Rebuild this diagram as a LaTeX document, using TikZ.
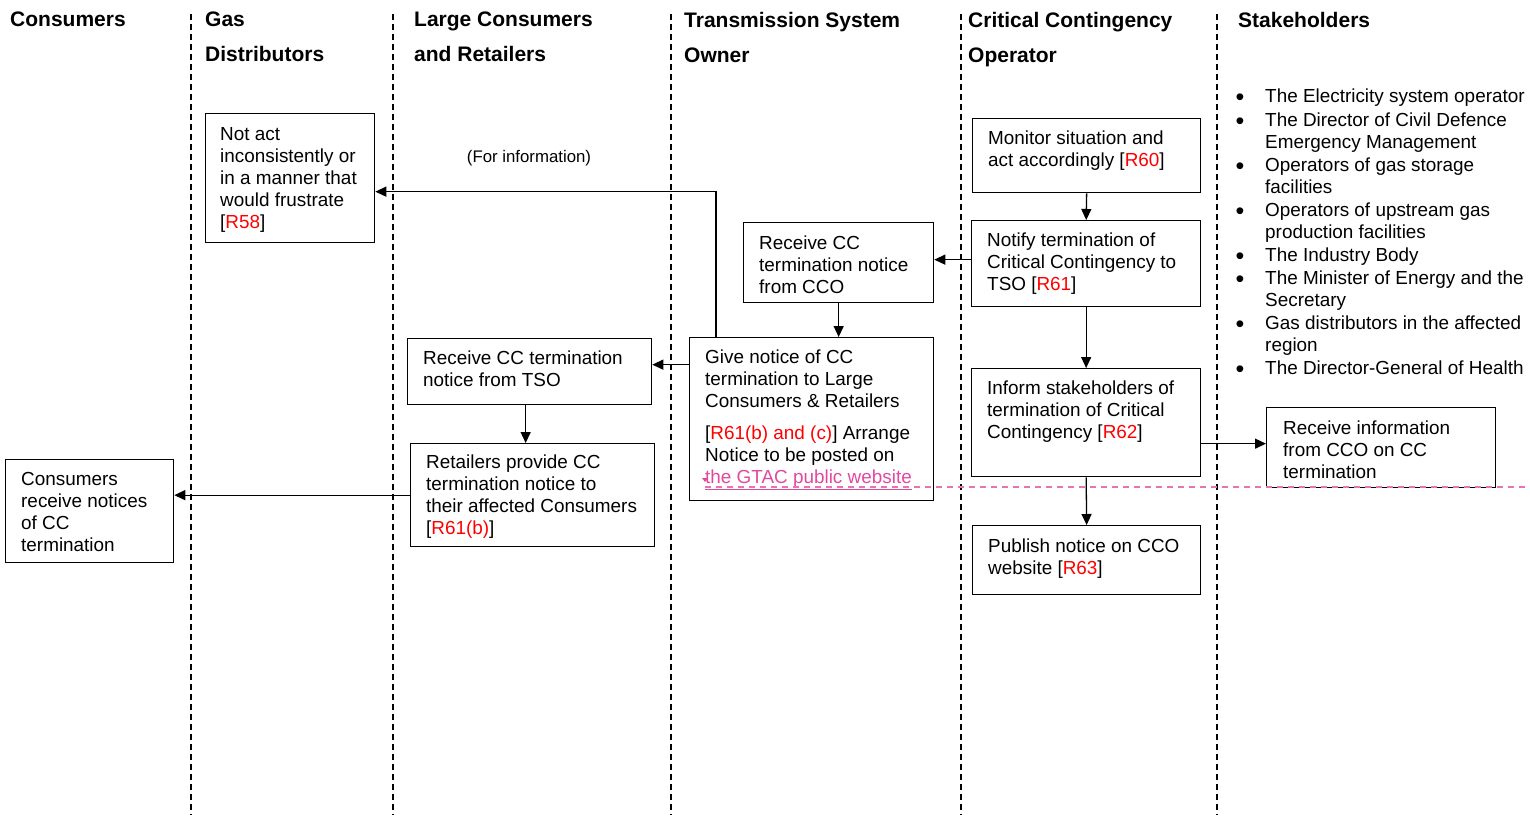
\documentclass[tikz,border=0pt]{standalone}
\usepackage{fontspec}
\setmainfont{Liberation Sans}
\usetikzlibrary{arrows.meta,calc}
\definecolor{refred}{RGB}{255,0,0}
\definecolor{linkpink}{RGB}{226,72,160}
\definecolor{dashpink}{RGB}{232,115,178}
\newcommand{\rf}[1]{[\textcolor{refred}{#1}]}
\begin{document}
\begin{tikzpicture}[x=1pt,y=-1pt,
  box/.style={draw, line width=1.3pt, anchor=north west, inner sep=0pt},
  txt/.style={anchor=north west, inner sep=0pt, align=left, font=\fontsize{18.9}{22}\selectfont},
  hdr/.style={anchor=north west, inner sep=0pt, align=left, font=\bfseries\fontsize{21}{35}\selectfont},
  lane/.style={line width=1.1pt, dash pattern=on 6pt off 4pt},
  arr/.style={line width=1.3pt, -{Triangle[length=11pt,width=10pt]}},
  bul/.style={anchor=base, inner sep=0pt, font=\fontsize{25}{25}\selectfont},
]
\useasboundingbox (0,0) rectangle (1530,815);

% lanes
\draw[lane] (191,14) -- (191,815);
\draw[lane] (393,14) -- (393,815);
\draw[lane] (671,14) -- (671,815);
\draw[lane] (961,14) -- (961,815);
\draw[lane] (1217,14) -- (1217,815);

% headers
\node[hdr] (h1) at (10,12) {Consumers};
\node[hdr] (h2) at (205,12) {Gas\\Distributors};
\node[hdr] (h3) at (414,12) {Large Consumers\\and Retailers};
\node[hdr] (h4) at (684,12) {Transmission System\\Owner};
\node[hdr] (h5) at (968,12) {Critical Contingency\\Operator};
\node[hdr] (h6) at (1238,12) {Stakeholders};

% boxes
\node[box, minimum width=169pt, minimum height=129pt] (r58) at (205,113) {};
\node[box, minimum width=228pt, minimum height=74pt] (mon) at (972,118) {};
\node[box, minimum width=229pt, minimum height=86pt] (notify) at (971,220) {};
\node[box, minimum width=190pt, minimum height=80pt] (rcco) at (743,222) {};
\node[box, minimum width=244pt, minimum height=163pt] (give) at (689,337) {};
\node[box, minimum width=244pt, minimum height=66pt] (rtso) at (407,338) {};
\node[box, minimum width=244pt, minimum height=103pt] (ret) at (410,443) {};
\node[box, minimum width=168pt, minimum height=103pt] (cons) at (5,459) {};
\node[box, minimum width=229pt, minimum height=108pt] (inform) at (971,368) {};
\node[box, minimum width=228pt, minimum height=69pt] (pub) at (972,525) {};
\node[box, minimum width=229pt, minimum height=80pt] (rinfo) at (1266,407) {};

% box texts
\node[txt] (t58) at (220,127) {Not act\\inconsistently or\\in a manner that\\would frustrate\\\rf{R58}};
\node[txt] (tmon) at (988,131) {Monitor situation and\\act accordingly \rf{R60}};
\node[txt] (tnot) at (987,233) {Notify termination of\\Critical Contingency to\\TSO \rf{R61}};
\node[txt] (tcco) at (759,236) {Receive CC\\termination notice\\from CCO};
\node[txt] (tgive) at (705,350) {Give notice of CC\\termination to Large\\Consumers \& Retailers\\[10pt]\rf{R61(b) and (c)} Arrange\\Notice to be posted on\\\textcolor{linkpink}{\underline{the GTAC public website}}};
\node[txt] (ttso) at (423,351) {Receive CC termination\\notice from TSO};
\node[txt] (tret) at (426,455) {Retailers provide CC\\termination notice to\\their affected Consumers\\\rf{R61(b)}};
\node[txt] (tcons) at (21,472) {Consumers\\receive notices\\of CC\\termination};
\node[txt] (tinf) at (987,381) {Inform stakeholders of\\termination of Critical\\Contingency \rf{R62}};
\node[txt] (tpub) at (988,539) {Publish notice on CCO\\website \rf{R63}};
\node[txt] (tinfo) at (1283,421) {Receive information\\from CCO on CC\\termination};

\node[font=\fontsize{16.8}{20}\selectfont, inner sep=0pt] (forinfo) at (529,158) {(For information)};

% stakeholders list
\node[txt] (s1) at (1265,89) {The Electricity system operator};
\node[txt] (s2) at (1265,113) {The Director of Civil Defence\\Emergency Management};
\node[txt] (s3) at (1265,158) {Operators of gas storage\\facilities};
\node[txt] (s4) at (1265,203) {Operators of upstream gas\\production facilities};
\node[txt] (s5) at (1265,248) {The Industry Body};
\node[txt] (s6) at (1265,271) {The Minister of Energy and the\\Secretary};
\node[txt] (s7) at (1265,316) {Gas distributors in the affected\\region};
\node[txt] (s8) at (1265,361) {The Director-General of Health};
\foreach \n/\yy in {b1/89,b2/113,b3/158,b4/203,b5/248,b6/271,b7/316,b8/361}
  \node[bul] (\n) at (1240,\yy+16) {\textbullet};

% comment marker line
\coordinate (cm0) at (705,487);
\coordinate (cm1) at (1530,487);
\draw[dashpink, line width=1.1pt, dash pattern=on 6pt off 5pt] (cm0) -- (cm1);
\fill[linkpink] ($(cm0)+(-3,-9)$) -- ($(cm0)+(3,-9)$) -- ($(cm0)+(0,-5)$) -- cycle;

% connectors
\draw[arr] (mon.south) -- (notify.north);
\draw[arr] ($(notify.west)+(0,-4)$) -- ($(rcco.east)+(0,-3)$);
\draw[arr] (rcco.south) -- (rcco.south |- give.north);
\draw[arr] ($(give.west)+(0,-54.5)$) -- ($(rtso.east)+(0,-7)$);
\draw[arr] ($(rtso.south)+(-4,0)$) -- ($(ret.north)+(-7,0)$);
\draw[arr] (ret.west) -- (ret.west -| cons.east);
\draw[arr] ($(give.north west)+(27,0)$) |- ($(r58.east)+(0,13.5)$);
\draw[arr] (notify.south) -- (inform.north);
\draw[arr] (inform.south) -- (pub.north);
\draw[arr] ($(inform.east)+(0,21)$) -- ($(rinfo.west)+(0,-4)$);
\end{tikzpicture}
\end{document}
